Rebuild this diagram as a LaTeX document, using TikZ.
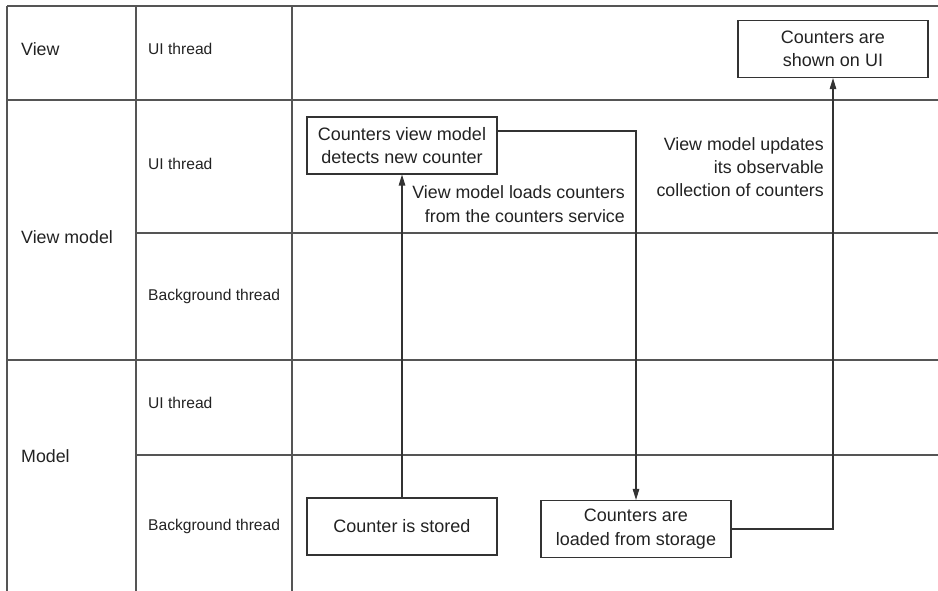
\documentclass[tikz,border=0pt]{standalone}
\usepackage{fontspec}
\setmainfont{Liberation Sans}
\usetikzlibrary{calc,arrows.meta}
\definecolor{gridc}{HTML}{555555}
\definecolor{boxc}{HTML}{333333}
\definecolor{txtc}{HTML}{222222}
\tikzset{
  grid/.style={draw=gridc,line width=1.1pt},
  lane/.style={anchor=west,text=txtc,font=\fontsize{17.8}{22}\selectfont,inner sep=0pt},
  thr/.style={anchor=west,text=txtc,font=\fontsize{15.6}{19}\selectfont,inner sep=0pt},
  stepbox/.style={draw=boxc,line width=1.1pt,minimum width=190pt,minimum height=57pt,align=center,text=txtc,font=\fontsize{18}{23.3}\selectfont,inner sep=2pt},
  note/.style={anchor=east,align=right,text=txtc,font=\fontsize{17.8}{23.3}\selectfont,inner sep=0pt},
  flow/.style={draw=boxc,line width=1.1pt,-{Triangle[length=11pt,width=6.5pt]}},
  plain/.style={draw=boxc,line width=1.1pt}
}
\begin{document}
\begin{tikzpicture}[x=1pt,y=-1pt]
\useasboundingbox (0,0) rectangle (938,591);
% grid
\draw[grid] (7,6) -- (938,6);
\draw[grid] (7,100) -- (938,100);
\draw[grid] (136,233) -- (938,233);
\draw[grid] (7,360) -- (938,360);
\draw[grid] (136,455) -- (938,455);
\draw[grid] (7,6) -- (7,591);
\draw[grid] (136,6) -- (136,591);
\draw[grid] (292,6) -- (292,591);
% lane labels
\node[lane] (lv) at (21,49) {View};
\node[lane] (lvm) at (21,237) {View model};
\node[lane] (lm) at (21,456) {Model};
\node[thr] (t1) at (148,49) {UI thread};
\node[thr] (t2) at (148,164) {UI thread};
\node[thr] (t3) at (148,296) {Background thread};
\node[thr] (t4) at (148,403) {UI thread};
\node[thr] (t5) at (148,526) {Background thread};
% boxes
\node[stepbox] (ui) at (833,49) {Counters are\\shown on UI};
\node[stepbox] (vm) at (402,145.5) {Counters view model\\detects new counter};
\node[stepbox] (st) at (402,526.5) {Counter is stored};
\node[stepbox] (ld) at (636,529) {Counters are\\loaded from storage};
% notes
\node[note] (n1) at (625,204) {View model loads counters\\from the counters service};
\node[note] (n2) at (824,167) {View model updates\\its observable\\collection of counters};
% connectors
\draw[flow] (st.north) -- (vm.south);
\coordinate (vmout) at ($(vm.north east)!0.25!(vm.south east)$);
\draw[flow] (vmout) -| (ld.north);
\draw[flow] (ld.east) -| (ui.south);
\end{tikzpicture}
\end{document}
